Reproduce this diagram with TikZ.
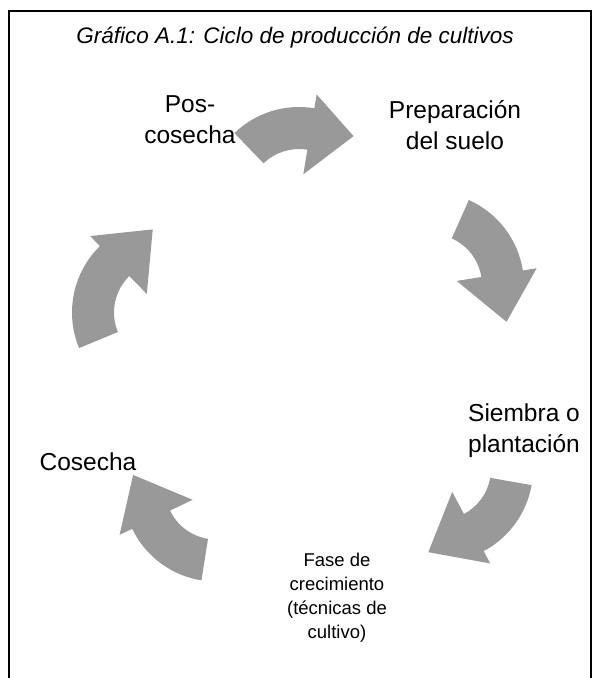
\documentclass[tikz,border=0pt]{standalone}
\usepackage{fontspec}
\setmainfont{Liberation Sans}
\usepackage{tikz}
\usetikzlibrary{calc}
% curved block arrow: (centre)(tail angle:head angle:tip shift)
\def\cycarrow(#1)(#2:#3:#4){\fill[arrowgray] ([shift={(#1)}]#2:93) arc[start angle=#2, end angle=#3, radius=93] -- ([shift={(#1)}]#3:107) -- ([shift={(#1)}]#3-#4:84) -- ([shift={(#1)}]#3:26) -- ([shift={(#1)}]#3:51) arc[start angle=#3, end angle=#2, radius=51] -- cycle;}
\colorlet{arrowgray}{black!40}
\tikzset{
  steplabel/.style={align=center, font=\fontsize{24.5}{31}\selectfont, inner sep=0pt},
  smalllabel/.style={align=center, font=\fontsize{18.5}{24}\selectfont, inner sep=0pt},
}

\begin{document}
\begin{tikzpicture}[x=1pt, y=1pt]
			%%%%% START %%%%%
			\useasboundingbox (0,0) rectangle (600,678);
			
			\draw[line width=1.6pt] (9,0) -- (9,667) -- (591,667) -- (591,0);
			
			\node[font=\fontsize{22.5}{27}\selectfont\itshape, inner sep=0pt] (title) at (295,640) {Gráfico A.1: Ciclo de producción de cultivos};
			
			\cycarrow(299,478)(134:80.5:31);
			\cycarrow(431,393)(66:9:35);
			\cycarrow(440,209)(-10:-62:36);
			\cycarrow(216,189.5)(261:205.7:35);
			\cycarrow(165,365.5)(202.5:134.4:36);
			
			\node[steplabel] (prep) at (455,553) {Preparación\\del suelo};
			\node[steplabel] (siembra) at (524,247) {Siembra o\\plantación};
			\node[smalllabel] (fase) at (337,80) {Fase de\\crecimiento\\(técnicas de\\cultivo)};
			\node[steplabel] (cosecha) at (88,216) {Cosecha};
			\node[steplabel] (pos) at (190,558) {Pos-\\cosecha};
			
			%%%%% END %%%%%
		\end{tikzpicture}
\end{document}
